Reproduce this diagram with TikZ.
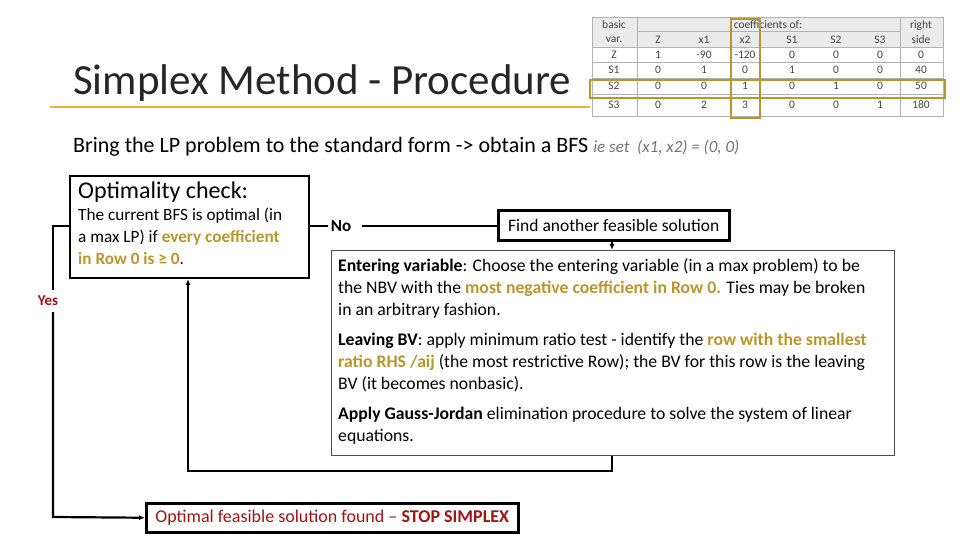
\documentclass[tikz,border=0pt]{standalone}
\usepackage{fontspec}
\setmainfont{Carlito}
\usetikzlibrary{arrows.meta}
\definecolor{gold}{HTML}{B8962E}
\definecolor{goldline}{HTML}{E2B43A}
\definecolor{dred}{HTML}{A01414}
\definecolor{tgray}{HTML}{444444}
\tikzset{
  box/.style={draw=black,line width=2pt,inner sep=0pt,anchor=north west},
  conn/.style={line width=2.2pt,line cap=butt},
  arr/.style={conn,-{Latex[length=6pt,width=5pt]}},
  tb/.style={font=\fontsize{11.5}{11.5}\selectfont,text=tgray,inner sep=0pt},
  body/.style={font=\fontsize{17.2}{22}\selectfont,align=left,anchor=north west,inner sep=0pt},
  mbody/.style={body,font=\fontsize{17.7}{22}\selectfont},
}
\newcommand{\gb}[1]{\textbf{\textcolor{gold}{#1}}}
\begin{document}
\begin{tikzpicture}[x=1pt,y=-1pt]
\useasboundingbox (0,0) rectangle (960,540);
% title
\node[anchor=base west,inner sep=0pt,font=\fontsize{43}{43}\selectfont,text=black!85] (title) at (73,95) {Simplex Method - Procedure};
\draw[goldline,line width=1.5pt] (50,107) -- (590,107);
% table
\fill[black!8] (592,17) rectangle (943,47);
\draw[black!30,line width=0.5pt] (592,17) rectangle (943,116);
\foreach \y in {47,62,78,94} \draw[black!30,line width=0.5pt] (592,\y) -- (943,\y);
\draw[black!30,line width=0.5pt] (637,31) -- (900,31);
\foreach \x in {637,900} \draw[black!30,line width=0.5pt] (\x,17) -- (\x,116);
\node[tb] (hb) at (614,25) {basic};
\node[tb] (hv) at (614,40) {var.};
\node[tb] (hc) at (768,25) {coefficients of:};
\node[tb] (hr) at (921,25) {right};
\node[tb] (hs) at (921,40) {side};
\foreach \c/\x in {Z/658,x1/704,x2/745,S1/792,S2/836,S3/880} \node[tb] (h\c) at (\x,40) {\c};
\foreach \r/\y/\vals in {Z/55/{1,-90,-120,0,0,0,0},S1/70/{0,1,0,1,0,0,40},S2/86/{0,0,1,0,1,0,50},S3/105/{0,2,3,0,0,1,180}}{
  \node[tb] (r\r) at (614,\y) {\r};
  \foreach \v [count=\i] in \vals {
    \pgfmathsetmacro{\xx}{{658,704,745,792,836,880,921}[\i-1]}
    \node[tb] (c\r\i) at (\xx,\y) {\v};
  }
}
\draw[gold,line width=2.5pt] (731,19) rectangle (760,118);
\draw[gold,line width=2.5pt] (590,80) rectangle (945,98);
% subtitle
\node[anchor=base west,inner sep=0pt,font=\fontsize{22}{22}\selectfont] (bring) at (73,153) {Bring the LP problem to the standard form -> obtain a BFS {\fontsize{17}{17}\selectfont\itshape\color{black!55} ie set \ (x1, x2) = (0, 0)}};
% optimality box
\node[box,minimum width=239pt,minimum height=102pt] (opt) at (69,175) {};
\node[body,font=\fontsize{24}{24}\selectfont] (optt) at (78,182) {Optimality check:};
\node[body] (optb) at (78,208) {The current BFS is optimal (in\\a max LP) if \gb{every coefficient}\\\gb{in Row 0 is ≥ 0}.};
% No
\node[inner sep=0pt,font=\fontsize{17}{17}\selectfont\bfseries] (no) at (341,226) {No};
% find box
\node[box,line width=2.5pt,minimum width=231pt,minimum height=30pt] (find) at (497,209) {};
\node[inner sep=0pt,font=\fontsize{17.5}{17.5}\selectfont] (findt) at (find.center) {Find another feasible solution};
% main box
\node[box,draw=black!70,line width=1pt,minimum width=563pt,minimum height=205pt] (main) at (331,250) {};
\node[mbody] (m1) at (338,258) {\textbf{Entering variable}: Choose the entering variable (in a max problem) to be\\the NBV with the \gb{most negative coefficient in Row 0.} Ties may be broken\\in an arbitrary fashion.};
\node[mbody] (m2) at (338,333) {\textbf{Leaving BV}: apply minimum ratio test - identify the \gb{row with the smallest}\\\gb{ratio RHS /aij} (the most restrictive Row); the BV for this row is the leaving\\BV (it becomes nonbasic).};
\node[mbody] (m3) at (338,407) {\textbf{Apply Gauss-Jordan} elimination procedure to solve the system of linear\\equations.};
% stop box
\node[box,line width=2.5pt,minimum width=372pt,minimum height=29pt] (stop) at (145,502) {};
\node[inner sep=0pt,font=\fontsize{18}{18}\selectfont,text=dred] (stopt) at (stop.center) {Optimal feasible solution found -- \textbf{STOP SIMPLEX}};
% Yes
\node[inner sep=6pt,font=\fontsize{15}{15}\selectfont\bfseries,text=dred] (yes) at (48,301) {Yes};
% connectors
\coordinate (oR) at (308,226);
\coordinate (oL) at (69,226);
\draw[conn] (oR) -- (no.west -| 328,0) ;
\draw[conn] (362,226) -- (find.west |- 0,226);
\draw[arr] (find.south -| 612,0) -- (main.north -| 612,0);
\draw[arr] (main.south -| 612,0) -- (612,471) -- (188,471) -- (opt.south -| 188,0);
\draw[conn] (oL) -- (53,226) -- (yes.north -| 53,0);
\draw[arr] (yes.south -| 53,0) -- (53,517) -- (stop.west);
\end{tikzpicture}
\end{document}
